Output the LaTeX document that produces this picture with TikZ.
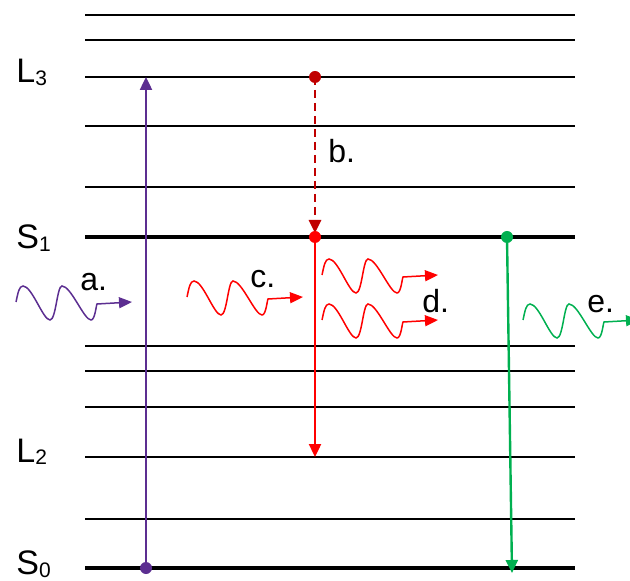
\documentclass[tikz,border=0pt]{standalone}
\usepackage{fontspec}
\setmainfont{Liberation Sans}
\usetikzlibrary{arrows.meta}
\definecolor{lvpurple}{RGB}{92,46,145}
\definecolor{lvdarkred}{RGB}{192,0,0}
\definecolor{lvred}{RGB}{255,0,0}
\definecolor{lvgreen}{RGB}{0,176,80}
\newcommand\photonwave[2]{%
  \draw[wave,#1,shift={#2}] (0,0) .. controls (2,-9) and (3,-16) .. (7,-16)
    .. controls (16,-16) and (27,18) .. (34,18)
    .. controls (40,18) and (41,-16) .. (46,-16)
    .. controls (55,-16) and (68,18) .. (75,18)
    .. controls (79,18) and (80,4) .. (81,2) -- (116,0);}
\newcommand\subdigit[1]{\raisebox{-1.5pt}{\fontsize{10.5pt}{12pt}\selectfont #1}}
\begin{document}
\begin{tikzpicture}[x=0.5pt,y=-0.5pt,
  level/.style={line width=1pt,black},
  mainlevel/.style={line width=1.8pt,black},
  dot/.style={circle,fill,inner sep=0pt,minimum size=6pt},
  trans/.style={line width=1.2pt,-{Triangle[length=6.5pt,width=6pt]}},
  wave/.style={line width=0.75pt,-{Triangle[length=6.5pt,width=5.5pt]}},
  lvlabel/.style={anchor=base west,inner sep=0pt,font=\fontsize{17pt}{19pt}\selectfont},
  letter/.style={anchor=base west,inner sep=0pt,font=\fontsize{16pt}{18pt}\selectfont}]
\useasboundingbox (0,0) rectangle (630,581);
\clip (0,0) rectangle (630,581);
% energy levels
\foreach \yy in {15,40,77,126,187,346,371,407,457,519}
  \draw[level] (85,\yy) -- (575,\yy);
\draw[mainlevel] (85,237) -- (575,237);
\draw[mainlevel] (85,568) -- (575,568);
% level labels
\node[lvlabel] (lL3) at (16,83) {L\subdigit{3}};
\node[lvlabel] (lS1) at (16,249) {S\subdigit{1}};
\node[lvlabel] (lL2) at (16,462) {L\subdigit{2}};
\node[lvlabel] (lS0) at (16,574) {S\subdigit{0}};
% transition points
\coordinate (a0) at (146,568);
\coordinate (a1) at (146,77);
\coordinate (b0) at (315,77);
\coordinate (c0) at (315,237);
\coordinate (c1) at (315,457);
\coordinate (e0) at (507,237);
\coordinate (e1) at (512,573);
% transitions
\draw[trans,lvpurple] (a0) -- (a1);
\draw[trans,lvdarkred,line width=1.4pt,dash pattern=on 4pt off 2.5pt,shorten >=2pt] (b0) -- (c0);
\draw[trans,lvred] (c0) -- (c1);
\draw[trans,lvgreen] (e0) -- (e1);
% dots
\node[dot,lvpurple] (da0) at (a0) {};
\node[dot,lvdarkred] (db0) at (b0) {};
\node[dot,lvred] (dc0) at (c0) {};
\node[dot,lvgreen] (de0) at (e0) {};
% photons
\photonwave{lvpurple}{(16,302)}
\photonwave{lvred}{(187,297)}
\photonwave{lvred}{(322,275)}
\photonwave{lvred}{(322,320)}
\photonwave{lvgreen}{(523,320)}
% letters
\node[letter] (ta) at (80,291) {a.};
\node[letter] (tb) at (328,163) {b.};
\node[letter] (tc) at (250,288) {c.};
\node[letter] (td) at (422,313) {d.};
\node[letter] (te) at (587,313) {e.};
\end{tikzpicture}
\end{document}
